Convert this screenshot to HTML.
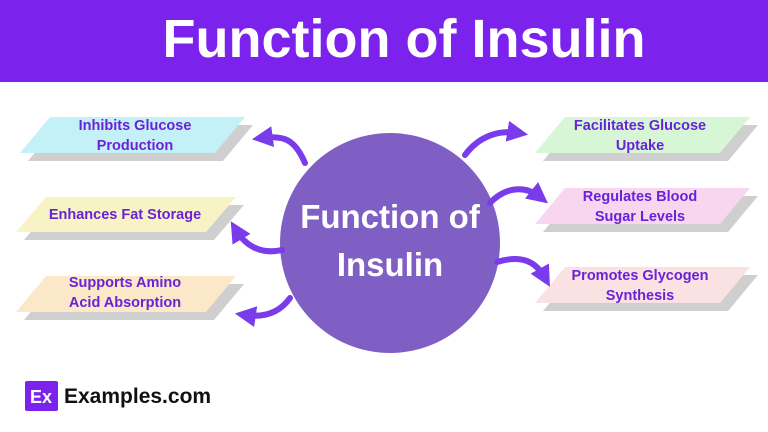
<!DOCTYPE html>
<html><head><style>
body{margin:0;width:768px;height:432px;background:#fff;overflow:hidden;font-family:"Liberation Sans",sans-serif;position:relative}
.hdr{position:absolute;left:0;top:0;width:768px;height:82px;background:#7b22ec}
.hdr div{position:absolute;left:0;width:768px;text-align:center;top:8px;color:#fff;font-weight:bold;font-size:54px;padding-left:40px;box-sizing:border-box}
.t{position:absolute;color:#6a22d8;font-weight:bold;font-size:14.5px;text-align:center;line-height:20px}
</style></head><body>
<div class="hdr"><div>Function of Insulin</div></div>
<svg width="768" height="432" style="position:absolute;left:0;top:0">
<defs><marker id="a" markerWidth="3.5" markerHeight="3.5" refX="1.8" refY="1.75" orient="auto"><path d="M0,0L3.5,1.75L0,3.5z" fill="#7a3cea"/></marker></defs>
<g fill="#cfcfcf">
<polygon points="28,161 58,125 253,125 223,161"/>
<polygon points="24,240 54,205 244,205 214,240"/>
<polygon points="24,320 54,284 244,284 214,320"/>
<polygon points="543,161 573,125 758,125 728,161"/>
<polygon points="543,232 573,196 758,196 728,232"/>
<polygon points="543,311 573,275 758,275 728,311"/>
</g>
<polygon points="20,153 50,117 245,117 215,153" fill="#c4f0f8"/>
<polygon points="16,232 46,197 236,197 206,232" fill="#f8f3c4"/>
<polygon points="16,312 46,276 236,276 206,312" fill="#fbe8c9"/>
<polygon points="535,153 565,117 750,117 720,153" fill="#d6f6d6"/>
<polygon points="535,224 565,188 750,188 720,224" fill="#f9d6ef"/>
<polygon points="535,303 565,267 750,267 720,303" fill="#fbe2e2"/>
<circle cx="390" cy="243" r="110" fill="#805fc4"/>
<g fill="none" stroke="#7a3cea" stroke-width="6" marker-end="url(#a)" stroke-linecap="round">
<path d="M305,163 C295,140 285,135 262,138"/>
<path d="M282,250 C260,255 245,245 236,230"/>
<path d="M290,298 C280,312 265,318 245,315"/>
<path d="M465,155 C480,135 500,130 518,133"/>
<path d="M490,203 C505,187 525,185 540,197"/>
<path d="M497,262 C520,255 535,260 545,278"/>
</g>
<rect x="25" y="381" width="33" height="30" rx="2" fill="#7b22ec"/>
<text x="41" y="403" fill="#fff" font-weight="bold" font-size="18" text-anchor="middle" font-family="Liberation Sans">Ex</text>
<text x="64" y="403" fill="#111" font-weight="bold" font-size="21" font-family="Liberation Sans">Examples.com</text>
<text x="390" y="228" fill="#fff" font-weight="bold" font-size="33" text-anchor="middle" font-family="Liberation Sans">Function of</text>
<text x="390" y="276" fill="#fff" font-weight="bold" font-size="33" text-anchor="middle" font-family="Liberation Sans">Insulin</text>
</svg>
<div class="t" style="left:40px;top:116px;width:190px">Inhibits Glucose<br>Production</div>
<div class="t" style="left:30px;top:205px;width:190px">Enhances Fat Storage</div>
<div class="t" style="left:30px;top:273px;width:190px">Supports Amino<br>Acid Absorption</div>
<div class="t" style="left:550px;top:116px;width:180px">Facilitates Glucose<br>Uptake</div>
<div class="t" style="left:550px;top:187px;width:180px">Regulates Blood<br>Sugar Levels</div>
<div class="t" style="left:550px;top:266px;width:180px">Promotes Glycogen<br>Synthesis</div>
</body></html>
